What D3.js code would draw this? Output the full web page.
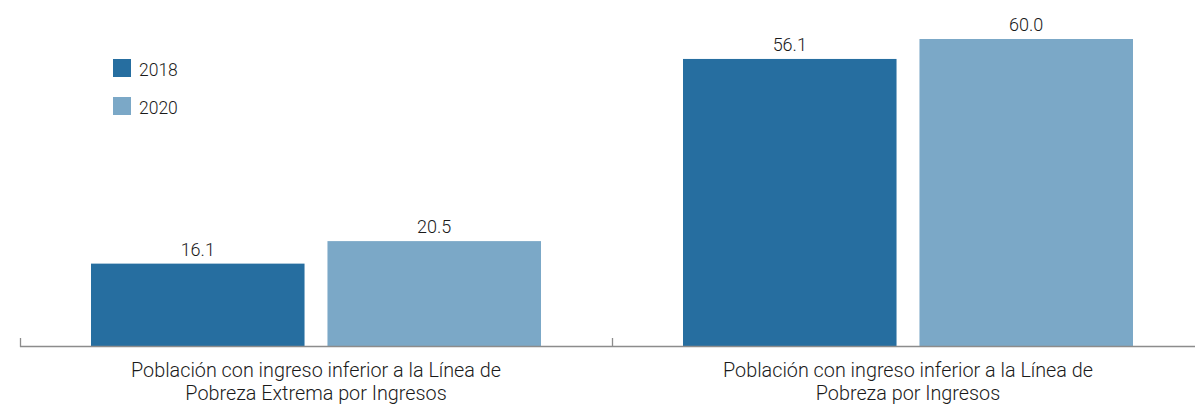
<!DOCTYPE html>
<html><head><meta charset="utf-8">
<script src="https://cdn.jsdelivr.net/npm/d3@7"></script>
<style>body{margin:0;background:#fff}svg{display:block}text{font-family:"Roboto","Liberation Sans",sans-serif;font-weight:300;fill:#1a1a1a}</style>
</head><body><svg id="c" width="1195" height="404"></svg>
<script>
const categories = [
  ["Población con ingreso inferior a la Línea de", "Pobreza Extrema por Ingresos"],
  ["Población con ingreso inferior a la Línea de", "Pobreza por Ingresos"]
];
const seriesNames = ["2018", "2020"];
const values2018 = [16.1, 56.1];
const values2020 = [20.5, 60.0];
const colors = ["#266ea0", "#7ba8c7"];

const svg = d3.select("#c");
const x0 = d3.scaleBand().domain(d3.range(categories.length)).range([20, 1204]).paddingInner(0).paddingOuter(0);
const x1 = d3.scaleBand().domain(seriesNames).range([71, 521]).paddingInner(0.097);
const y = d3.scaleLinear().domain([0, 60]).range([346, 39]);

const data = categories.map((c, i) => ({i, vals: [values2018[i], values2020[i]]}));

const g = svg.selectAll("g.grp").data(data).join("g").attr("class","grp")
  .attr("transform", d => `translate(${x0(d.i)},0)`);
g.selectAll("rect").data(d => d.vals.map((v, k) => ({v, k})))
  .join("rect")
  .attr("x", d => x1(seriesNames[d.k]))
  .attr("width", x1.bandwidth())
  .attr("y", d => y(d.v))
  .attr("height", d => y(0) - y(d.v))
  .attr("fill", d => colors[d.k]);
g.selectAll("text.val").data(d => d.vals.map((v, k) => ({v, k})))
  .join("text").attr("class","val")
  .attr("x", d => x1(seriesNames[d.k]) + x1.bandwidth()/2)
  .attr("y", d => y(d.v) - 8)
  .attr("text-anchor","middle").attr("font-size", 18)
  .text(d => d3.format(".1f")(d.v));

// axis
const axis = svg.append("g");
axis.append("line").attr("x1", 20).attr("x2", 1204).attr("y1", 346.5).attr("y2", 346.5).attr("stroke", "#8c8c8c").attr("stroke-width", 1.3);
const tickPos = [20, 612, 1204];
axis.selectAll("line.t").data(tickPos).join("line").attr("class","t")
  .attr("x1", d => d + 0.5).attr("x2", d => d + 0.5).attr("y1", 338).attr("y2", 347)
  .attr("stroke", "#8c8c8c").attr("stroke-width", 1.3);

// category labels
const cl = svg.selectAll("text.cat").data(data).join("text").attr("class","cat")
  .attr("text-anchor","middle").attr("font-size", 19.8)
  .attr("transform", d => `translate(${x0(d.i) + x0.bandwidth()/2},0)`);
cl.selectAll("tspan").data(d => categories[d.i]).join("tspan")
  .attr("x", 0).attr("y", (d, k) => 377 + k * 23).text(d => d);

// legend
const lg = svg.selectAll("g.lg").data(seriesNames).join("g").attr("class","lg")
  .attr("transform", (d, k) => `translate(113,${59 + k * 38})`);
lg.append("rect").attr("width", 18).attr("height", 18).attr("fill", (d, k) => colors[k]);
lg.append("text").attr("x", 26).attr("y", 16.5).attr("font-size", 17.5).text(d => d);
</script></body></html>
